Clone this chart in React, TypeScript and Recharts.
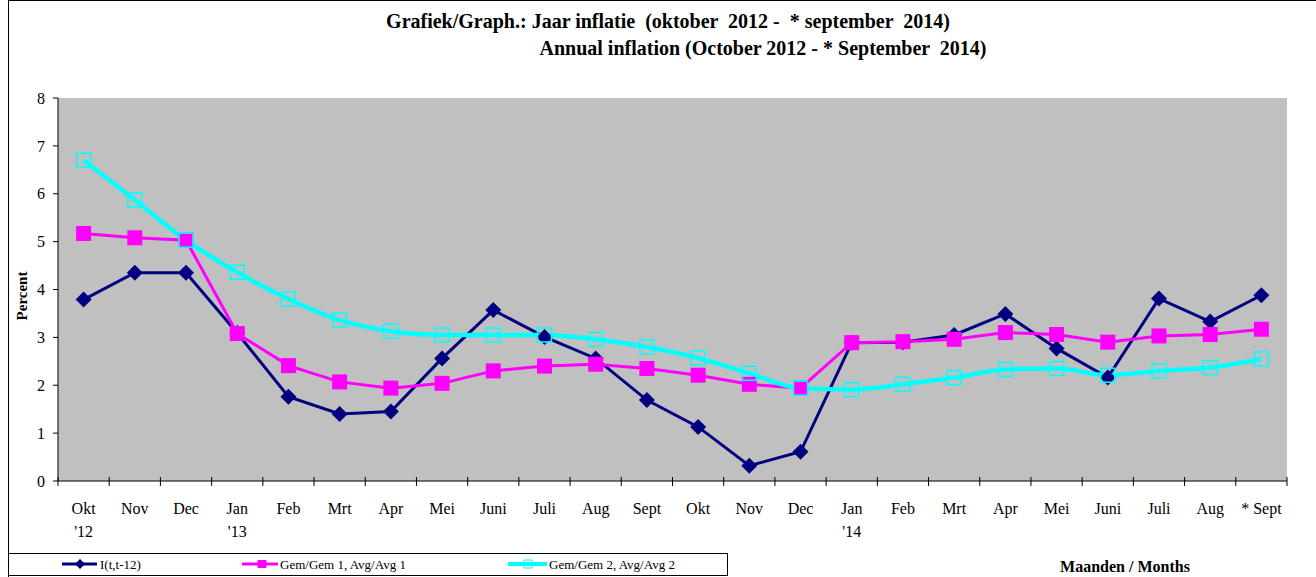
import React from "react";
import { LineChart, Line, XAxis, YAxis, CartesianGrid } from "recharts";

// Months on the x axis, with the year shown under the first month of each year
const months = [
  "Okt", "Nov", "Dec", "Jan", "Feb", "Mrt", "Apr", "Mei", "Juni", "Juli", "Aug", "Sept",
  "Okt", "Nov", "Dec", "Jan", "Feb", "Mrt", "Apr", "Mei", "Juni", "Juli", "Aug", "* Sept",
];
const years = [
  "'12", "", "", "'13", "", "", "", "", "", "", "", "",
  "", "", "", "'14", "", "", "", "", "", "", "", "",
];

// I(t,t-12)
const inflatie = [
  3.79, 4.35, 4.35, 3.09, 1.76, 1.40, 1.45, 2.56, 3.57, 3.01, 2.56, 1.69,
  1.13, 0.32, 0.61, 2.89, 2.90, 3.05, 3.49, 2.77, 2.16, 3.81, 3.33, 3.88,
];
// Gem/Gem 1, Avg/Avg 1
const gem1 = [
  5.17, 5.08, 5.03, 3.08, 2.41, 2.07, 1.94, 2.04, 2.30, 2.40, 2.44, 2.35,
  2.21, 2.02, 1.94, 2.89, 2.91, 2.96, 3.10, 3.06, 2.90, 3.03, 3.06, 3.17,
];
// Gem/Gem 2, Avg/Avg 2
const gem2 = [
  6.70, 5.87, 5.03, 4.36, 3.80, 3.36, 3.13, 3.05, 3.05, 3.05, 2.96, 2.80,
  2.57, 2.25, 1.94, 1.91, 2.02, 2.16, 2.33, 2.35, 2.21, 2.30, 2.37, 2.55,
];
const yTicks = [0, 1, 2, 3, 4, 5, 6, 7, 8];

const data = months.map((m, i) => ({
  m,
  inflatie: inflatie[i],
  gem1: gem1[i],
  gem2: gem2[i],
}));

const W = 1316;
const H = 577;
const PLOT_L = 58;
const PLOT_R = 1287;
const PLOT_T = 98;
const PLOT_B = 481;
const BW = (PLOT_R - PLOT_L) / months.length;

const FONT = "'Liberation Serif', 'Times New Roman', serif";
const NAVY = "#000080";
const MAGENTA = "#FF00FF";
const CYAN = "#00FFFF";

function XTick(props: any) {
  const { x, payload } = props;
  const i = payload.index;
  return (
    <g>
      <line x1={x - BW / 2} x2={x - BW / 2} y1={PLOT_B - 4} y2={PLOT_B + 5} stroke="#000" />
      {i === months.length - 1 && (
        <line x1={x + BW / 2} x2={x + BW / 2} y1={PLOT_B - 4} y2={PLOT_B + 5} stroke="#000" />
      )}
      <text x={x} y={514} textAnchor="middle" fontFamily={FONT} fontSize={16} fill="#000">
        {months[i]}
      </text>
      {years[i] && (
        <text x={x} y={537} textAnchor="middle" fontFamily={FONT} fontSize={16} fill="#000">
          {years[i]}
        </text>
      )}
    </g>
  );
}

const diamond = (p: any) => {
  const { cx, cy, index } = p;
  const r = 8;
  return (
    <polygon
      key={"d" + index}
      points={`${cx},${cy - r} ${cx + r},${cy} ${cx},${cy + r} ${cx - r},${cy}`}
      fill={NAVY}
    />
  );
};

const fullSquare = (p: any) => {
  const { cx, cy, index } = p;
  return <rect key={"s" + index} x={cx - 7.5} y={cy - 7.5} width={15} height={15} fill={MAGENTA} />;
};

const openSquare = (p: any) => {
  const { cx, cy, index } = p;
  return (
    <rect
      key={"o" + index}
      x={cx - 7}
      y={cy - 7}
      width={14}
      height={14}
      fill="none"
      stroke={CYAN}
      strokeWidth={1.5}
    />
  );
};

// legend sample: line from x1 to x2, marker centred at mx, text at tx
function LegendItem({ x1, x2, mx, tx, color, marker, label, width }: any) {
  const cy = 564;
  return (
    <g>
      <line x1={x1} x2={x2} y1={cy} y2={cy} stroke={color} strokeWidth={width} />
      {marker === "diamond" && (
        <polygon points={`${mx},${cy - 5} ${mx + 5},${cy} ${mx},${cy + 5} ${mx - 5},${cy}`} fill={color} />
      )}
      {marker === "square" && <rect x={mx - 4.5} y={cy - 4} width={9} height={8} fill={color} />}
      {marker === "open" && (
        <rect x={mx - 4} y={cy - 4} width={8} height={8} fill="none" stroke={color} strokeWidth={1} />
      )}
      <text x={tx} y={569} fontFamily={FONT} fontSize={13} fill="#000">
        {label}
      </text>
    </g>
  );
}

export default function App() {
  return (
    <div
      style={{
        position: "absolute",
        left: 0,
        top: 0,
        width: W,
        height: H,
        overflow: "hidden",
        background: "#fff",
      }}
    >
      <LineChart
        width={W}
        height={H}
        data={data}
        margin={{ top: PLOT_T, right: W - PLOT_R, left: 8, bottom: H - PLOT_B - 56 }}
      >
        <CartesianGrid horizontal={false} vertical={false} fill="#C0C0C0" />
        <XAxis
          dataKey="m"
          interval={0}
          height={56}
          padding={{ left: BW / 2, right: BW / 2 }}
          axisLine={{ stroke: "#000" }}
          tickLine={false}
          tick={<XTick />}
        />
        <XAxis
          xAxisId="top"
          orientation="top"
          dataKey="m"
          height={0}
          tick={false}
          tickLine={false}
          axisLine={{ stroke: "#808080" }}
        />
        <YAxis
          domain={[0, 8]}
          ticks={yTicks}
          width={50}
          tickSize={5}
          tickMargin={8}
          axisLine={{ stroke: "#000" }}
          tickLine={{ stroke: "#000" }}
          tick={{ fontFamily: FONT, fontSize: 16, fill: "#000" }}
        />
        <YAxis
          yAxisId="right"
          orientation="right"
          domain={[0, 8]}
          width={0}
          tick={false}
          tickLine={false}
          axisLine={{ stroke: "#808080" }}
        />
        {/* lines first, markers on top, as in the original */}
        <Line dataKey="inflatie" type="linear" stroke={NAVY} strokeWidth={3} dot={false} activeDot={false} isAnimationActive={false} />
        <Line dataKey="gem1" type="linear" stroke={MAGENTA} strokeWidth={3} dot={false} activeDot={false} isAnimationActive={false} />
        <Line dataKey="gem2" type="monotone" stroke={CYAN} strokeWidth={4.5} dot={false} activeDot={false} isAnimationActive={false} />
        <Line dataKey="inflatie" stroke="none" dot={diamond} activeDot={false} isAnimationActive={false} />
        <Line dataKey="gem1" stroke="none" dot={fullSquare} activeDot={false} isAnimationActive={false} />
        <Line dataKey="gem2" stroke="none" dot={openSquare} activeDot={false} isAnimationActive={false} />
      </LineChart>

      <svg
        width={W}
        height={H}
        style={{ position: "absolute", left: 0, top: 0, pointerEvents: "none" }}
      >
        <line x1={8} x2={W} y1={0.5} y2={0.5} stroke="#000" />
        <line x1={8.5} x2={8.5} y1={0} y2={H} stroke="#000" />
        <text
          x={668}
          y={28}
          textAnchor="middle"
          fontFamily={FONT}
          fontSize={20}
          fontWeight="bold"
          style={{ whiteSpace: "pre" }}
        >
          {"Grafiek/Graph.: Jaar inflatie  (oktober  2012 -  * september  2014)"}
        </text>
        <text
          x={763}
          y={55}
          textAnchor="middle"
          fontFamily={FONT}
          fontSize={20}
          fontWeight="bold"
          style={{ whiteSpace: "pre" }}
        >
          {"Annual inflation (October 2012 - * September  2014)"}
        </text>
        <text
          x={27}
          y={296}
          transform="rotate(-90 27 296)"
          textAnchor="middle"
          fontFamily={FONT}
          fontSize={15}
          fontWeight="bold"
        >
          Percent
        </text>
        <text x={1125} y={572} textAnchor="middle" fontFamily={FONT} fontSize={16} fontWeight="bold">
          Maanden / Months
        </text>
        <rect x={8.5} y={553.5} width={719} height={22} fill="#fff" stroke="#000" />
        <LegendItem x1={62} x2={97} mx={80} tx={100} width={3} color={NAVY} marker="diamond" label="I(t,t-12)" />
        <LegendItem x1={242} x2={278} mx={262} tx={280} width={3} color={MAGENTA} marker="square" label="Gem/Gem 1, Avg/Avg 1" />
        <LegendItem x1={508} x2={547} mx={528} tx={549} width={4} color={CYAN} marker="open" label="Gem/Gem 2, Avg/Avg 2" />
      </svg>
    </div>
  );
}
